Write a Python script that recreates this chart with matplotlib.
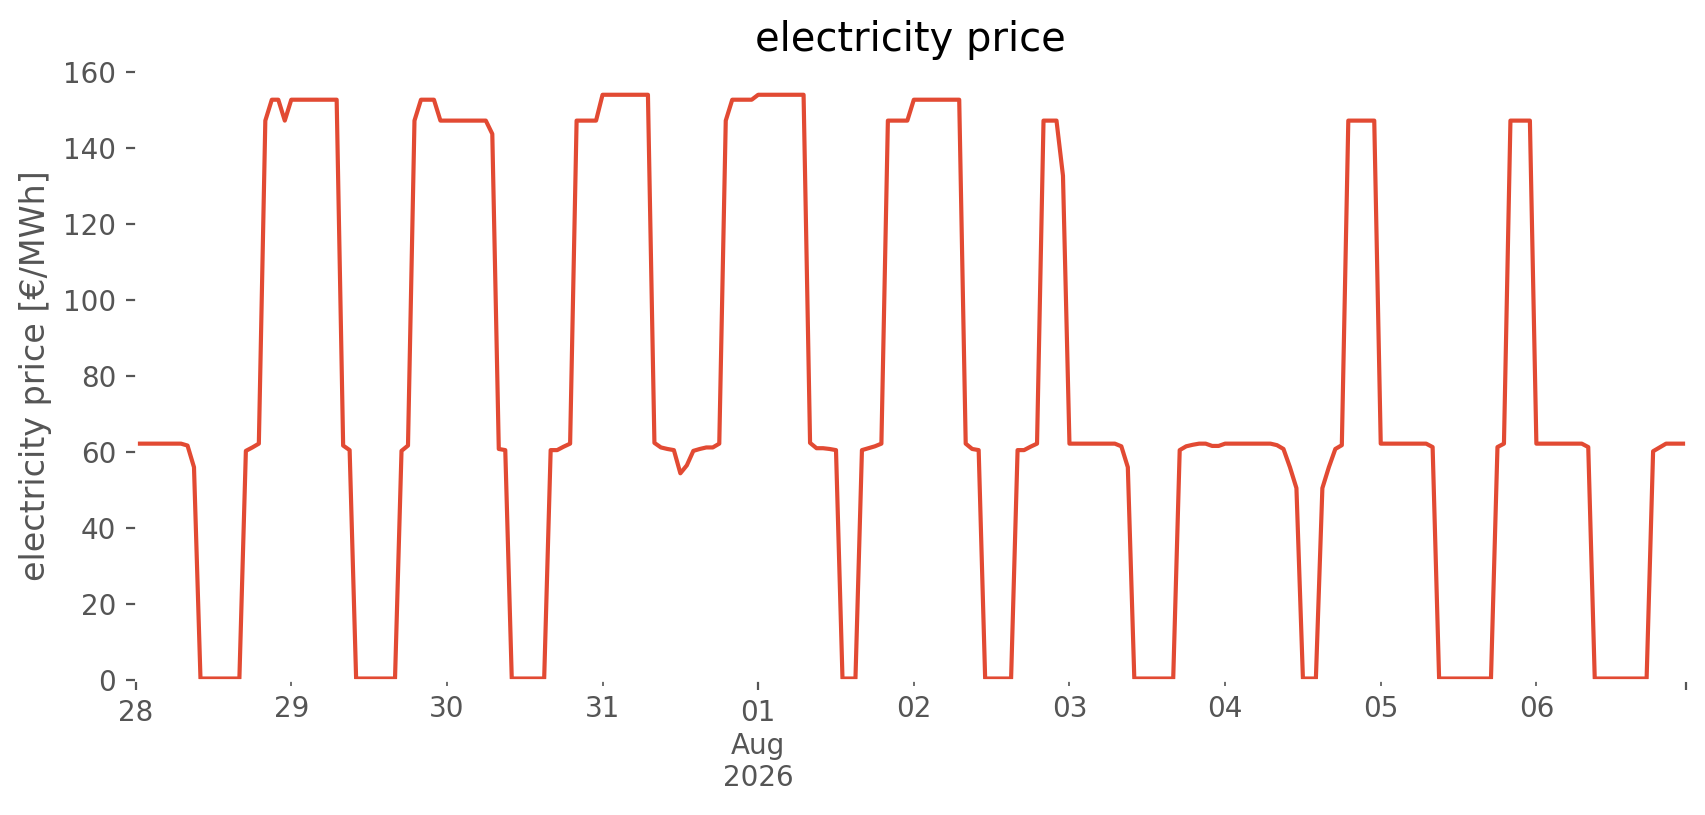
import numpy as np
import pandas as pd
import matplotlib
matplotlib.use("Agg")
import matplotlib.pyplot as plt

# hourly day-ahead price [EUR/MWh], one list per day (00:00 .. 23:00)
jul_28 = [62.2, 62.2, 62.2, 62.2, 62.2, 62.2, 62.2, 62.2, 61.7, 56.0, 0.4, 0.4,
          0.4, 0.4, 0.4, 0.4, 0.4, 60.3, 61.2, 62.2, 147.2, 152.7, 152.7, 147.2]
jul_29 = [152.7, 152.7, 152.7, 152.7, 152.7, 152.7, 152.7, 152.7, 61.7, 60.5, 0.4, 0.4,
          0.4, 0.4, 0.4, 0.4, 0.4, 60.3, 61.7, 147.2, 152.7, 152.7, 152.7, 147.2]
jul_30 = [147.2, 147.2, 147.2, 147.2, 147.2, 147.2, 147.2, 143.7, 60.8, 60.5, 0.4, 0.4,
          0.4, 0.4, 0.4, 0.4, 60.5, 60.5, 61.4, 62.2, 147.2, 147.2, 147.2, 147.2]
jul_31 = [154.0, 154.0, 154.0, 154.0, 154.0, 154.0, 154.0, 154.0, 62.4, 61.2, 60.8, 60.5,
          54.4, 56.5, 60.3, 60.8, 61.2, 61.2, 62.2, 147.2, 152.7, 152.7, 152.7, 152.7]
aug_01 = [154.0, 154.0, 154.0, 154.0, 154.0, 154.0, 154.0, 154.0, 62.4, 61.0, 61.0, 60.8,
          60.5, 0.4, 0.4, 0.4, 60.5, 61.0, 61.5, 62.2, 147.2, 147.2, 147.2, 147.2]
aug_02 = [152.7, 152.7, 152.7, 152.7, 152.7, 152.7, 152.7, 152.7, 62.2, 60.8, 60.5, 0.4,
          0.4, 0.4, 0.4, 0.4, 60.5, 60.5, 61.4, 62.2, 147.2, 147.2, 147.2, 132.7]
aug_03 = [62.2, 62.2, 62.2, 62.2, 62.2, 62.2, 62.2, 62.2, 61.5, 56.0, 0.4, 0.4,
          0.4, 0.4, 0.4, 0.4, 0.4, 60.5, 61.5, 61.9, 62.2, 62.2, 61.6, 61.6]
aug_04 = [62.2, 62.2, 62.2, 62.2, 62.2, 62.2, 62.2, 62.2, 61.8, 60.8, 56.0, 50.5,
          0.4, 0.4, 0.4, 50.5, 56.0, 60.8, 61.8, 147.2, 147.2, 147.2, 147.2, 147.2]
aug_05 = [62.2, 62.2, 62.2, 62.2, 62.2, 62.2, 62.2, 62.2, 61.3, 0.4, 0.4, 0.4,
          0.4, 0.4, 0.4, 0.4, 0.4, 0.4, 61.3, 62.2, 147.2, 147.2, 147.2, 147.2]
aug_06 = [62.2, 62.2, 62.2, 62.2, 62.2, 62.2, 62.2, 62.2, 61.3, 0.4, 0.4, 0.4,
          0.4, 0.4, 0.4, 0.4, 0.4, 0.4, 60.2, 61.2, 62.2, 62.2, 62.2, 62.2]

days = [jul_28, jul_29, jul_30, jul_31, aug_01, aug_02, aug_03, aug_04, aug_05, aug_06]
price = np.concatenate(days)
index = pd.date_range("2026-07-28 00:00", periods=len(price), freq="h")
series = pd.Series(price, index=index, name="electricity price")

plt.style.use("ggplot")
plt.rcParams["axes.facecolor"] = "white"
plt.rcParams["axes.grid"] = False

fig = plt.figure(figsize=(8.53, 4.075), dpi=200)
ax = fig.add_axes([0.0795, 0.1656, 0.9085, 0.7461])
series.plot(ax=ax, color="#E24A33", lw=1.5)

ax.set_ylim(0, 160)
ax.set_title("electricity price", pad=7.5)
ax.set_ylabel("electricity price [€/MWh]")
ax.set_xlabel("")

fig.savefig("out.png", dpi=200, facecolor="white")
